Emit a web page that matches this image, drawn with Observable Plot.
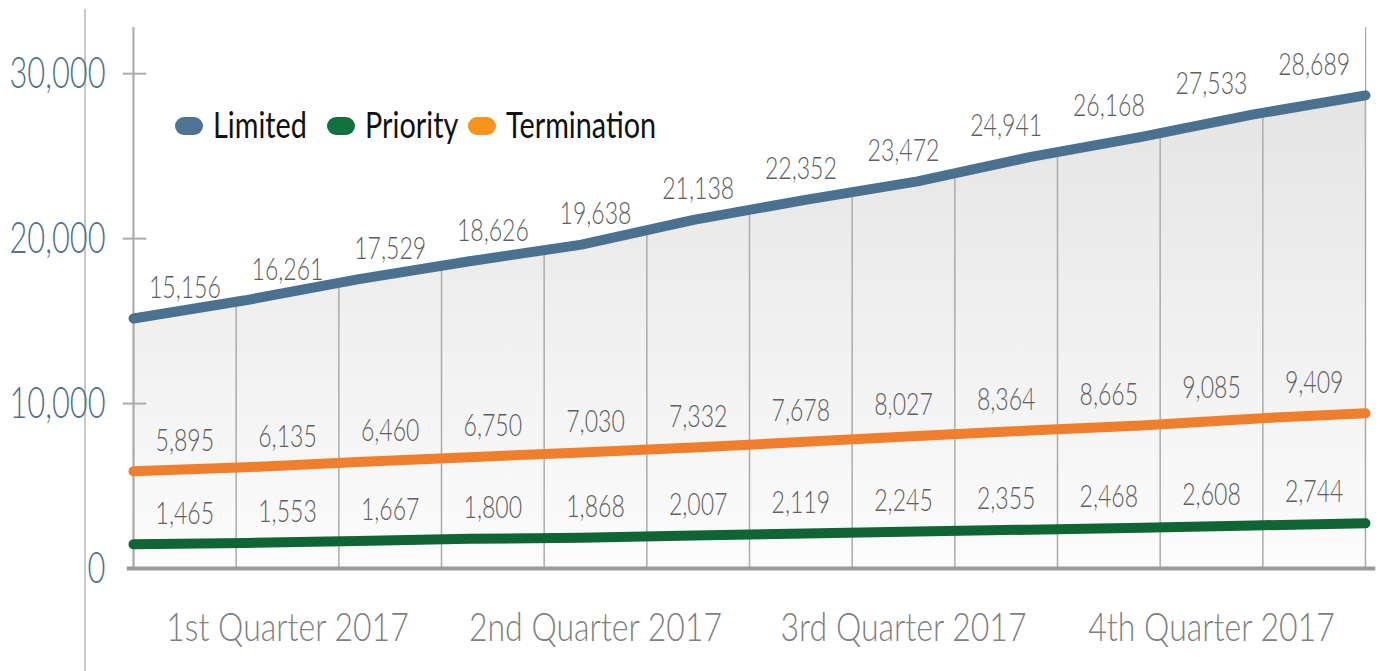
<!DOCTYPE html>
<html>
<head>
<meta charset="utf-8">
<script src="https://cdn.jsdelivr.net/npm/d3@7"></script>
<script src="https://cdn.jsdelivr.net/npm/@observablehq/plot@0.6"></script>
<style>
  html, body { margin: 0; padding: 0; background: #fff; }
  #wrap { position: relative; width: 1380px; height: 671px; overflow: hidden; font-family: Lato, sans-serif; }
  #pageline { position: absolute; left: 84px; top: 9px; width: 2px; height: 662px; background: #c9c9c9; }
  .sw { position: absolute; width: 28px; height: 18px; border-radius: 9px; }
  .lt { position: absolute; font-size: 36px; line-height: 36px; color: #111; white-space: nowrap;
        transform: scaleX(0.8); transform-origin: left center; }
  svg g[aria-label="text"], svg g[aria-label="y-axis tick label"], svg g[aria-label="x-axis tick label"] { font-weight: 300; }
</style>
</head>
<body>
<div id="wrap"><div id="pageline"></div></div>
<script>
// ---- data ----
const months = [0,1,2,3,4,5,6,7,8,9,10,11];
const limited     = [15156, 16261, 17529, 18626, 19638, 21138, 22352, 23472, 24941, 26168, 27533, 28689];
const priority    = [1465, 1553, 1667, 1800, 1868, 2007, 2119, 2245, 2355, 2468, 2608, 2744];
const termination = [5895, 6135, 6460, 6750, 7030, 7332, 7678, 8027, 8364, 8665, 9085, 9409];
const quarters = ["1st Quarter 2017", "2nd Quarter 2017", "3rd Quarter 2017", "4th Quarter 2017"];
const yTicks = [0, 10000, 20000, 30000];
const seriesNames = ["Limited", "Priority", "Termination"];
const lineColors = {Limited: "#4b7191", Priority: "#0f6534", Termination: "#ef7f2c"};
const swatchColors = {Limited: "#4f7392", Priority: "#137040", Termination: "#f7941d"};

const seriesValues = {Limited: limited, Priority: priority, Termination: termination};
const rows = seriesNames.flatMap(s => seriesValues[s].map((v, i) => ({series: s, i, v})));
const limRows = rows.filter(d => d.series === "Limited");
const nM = months.length;
const lineX = d => d.i * nM / (nM - 1);   // vertices spread edge to edge
const labelX = d => d.i + 0.5;            // labels centred in each month cell
const yMax = 32800;
const fmt = d3.format(",");

const gradient = (index, scales) => {
  const ns = "http://www.w3.org/2000/svg";
  const defs = document.createElementNS(ns, "defs");
  const g = document.createElementNS(ns, "linearGradient");
  g.setAttribute("id", "areaGrad");
  g.setAttribute("gradientUnits", "userSpaceOnUse");
  g.setAttribute("x1", 0); g.setAttribute("x2", 0);
  g.setAttribute("y1", scales.y(29000)); g.setAttribute("y2", scales.y(0));
  [["0%", "#e4e4e4"], ["100%", "#fcfcfc"]].forEach(([o, c]) => {
    const s = document.createElementNS(ns, "stop");
    s.setAttribute("offset", o); s.setAttribute("stop-color", c);
    g.appendChild(s);
  });
  defs.appendChild(g);
  return defs;
};

const chart = Plot.plot({
  width: 1380,
  height: 671,
  marginLeft: 133,
  marginRight: 15,
  marginTop: 27,
  marginBottom: 103,
  style: {fontFamily: "Lato, sans-serif", background: "transparent"},
  x: {domain: [0, nM], axis: null},
  y: {domain: [0, yMax], axis: null},
  marks: [
    gradient,
    Plot.areaY(limRows, {x: lineX, y: "v", fill: "url(#areaGrad)"}),
    Plot.ruleX(d3.range(nM + 1), {stroke: "#ababab", strokeWidth: 1.5}),
    Plot.areaY(limRows, {x: lineX, y1: "v", y2: yMax, fill: "#fff"}),
    Plot.ruleX([0], {stroke: "#ababab", strokeWidth: 2}),
    Plot.ruleY(yTicks.slice(1), {x1: -0.1, x2: 0.13, stroke: "#ababab", strokeWidth: 2}),
    Plot.ruleY([0], {x1: -0.06, x2: 12.1, stroke: "#9a9a9a", strokeWidth: 4}),
    Plot.line(rows, {x: lineX, y: "v", z: "series", stroke: d => lineColors[d.series],
                     strokeWidth: 10, strokeLinecap: "round", strokeLinejoin: "round"}),
    Plot.text(rows, {x: labelX, y: "v", text: d => fmt(d.v), dy: -31, fill: "#5e5e5e",
                     fontSize: 32}),
    Plot.axisY(yTicks, {tickSize: 0, tickPadding: 28, fontSize: 44, fill: "#52728e", label: null,
                        tickFormat: d => fmt(d)}),
    Plot.axisX(quarters.map((q, k) => k * 3 + 1.5), {tickSize: 0, tickPadding: 44, fontSize: 40,
                        fill: "#808080", label: null, tickFormat: d => quarters[(d - 1.5) / 3]})
  ]
});
chart.style.position = "absolute";
chart.style.left = "0";
chart.style.top = "0";
const wrap = document.getElementById("wrap");
wrap.appendChild(chart);

// condense the glyphs horizontally (the reference uses a narrow typeface)
const squeeze = {"text": 0.72, "y-axis tick label": 0.7, "x-axis tick label": 0.8};
chart.querySelectorAll("g[aria-label]").forEach(g => {
  const k = squeeze[g.getAttribute("aria-label")];
  if (!k) return;
  g.querySelectorAll("text").forEach(t => {
    const L = t.getComputedTextLength();
    t.setAttribute("textLength", (L * k).toFixed(1));
    t.setAttribute("lengthAdjust", "spacingAndGlyphs");
  });
});

// legend
const legendPos = {Limited: 175, Priority: 327, Termination: 468};
seriesNames.forEach(s => {
  const sw = document.createElement("div");
  sw.className = "sw";
  sw.style.left = legendPos[s] + "px";
  sw.style.top = "117px";
  sw.style.background = swatchColors[s];
  const tx = document.createElement("div");
  tx.className = "lt";
  tx.style.left = (legendPos[s] + 38) + "px";
  tx.style.top = "106px";
  tx.textContent = s;
  wrap.appendChild(sw); wrap.appendChild(tx);
});
</script>
</body>
</html>
